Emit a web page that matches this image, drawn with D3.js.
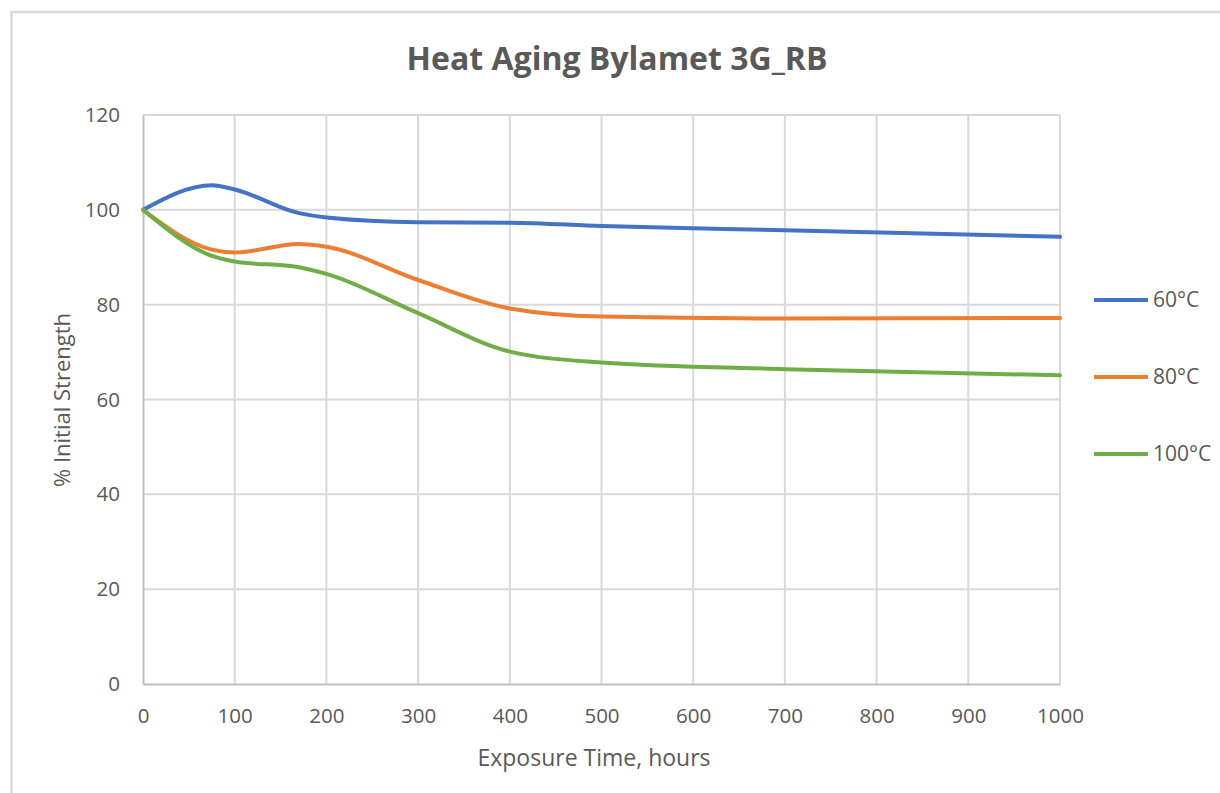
<!DOCTYPE html>
<html>
<head>
<meta charset="utf-8">
<script src="https://cdn.jsdelivr.net/npm/d3@7"></script>
<style>
  body { margin: 0; background: #fff; }
  text { font-family: "Open Sans", "Liberation Sans", sans-serif; fill: #595959; }
</style>
</head>
<body>
<div id="chart"></div>
<script>
// values
var hours = [0, 75, 100, 170, 200, 300, 400, 500, 700, 1000];
var temp60 = [100, 105.2, 104.3, 99.3, 98.4, 97.4, 97.3, 96.6, 95.7, 94.3];
var temp80 = [100, 91.6, 91.0, 92.8, 92.2, 85.2, 79.2, 77.5, 77.1, 77.2];
var temp100 = [100, 90.3, 89.1, 87.9, 86.5, 78.2, 70.1, 67.8, 66.4, 65.1];
var seriesNames = ["60°C", "80°C", "100°C"];
var seriesColors = ["#4472C4", "#ED7D31", "#70AD47"];
var xTicks = [0, 100, 200, 300, 400, 500, 600, 700, 800, 900, 1000];
var yTicks = [0, 20, 40, 60, 80, 100, 120];

var series = [temp60, temp80, temp100].map(function(vals, i) {
    return {
        name: seriesNames[i],
        color: seriesColors[i],
        values: vals.map(function(v, j) { return {x: hours[j], y: v}; })
    };
});

var margin = {top: 115, right: 160, bottom: 109, left: 143},
    width = 1220 - margin.left - margin.right,
    height = 793 - margin.top - margin.bottom;

var svg = d3.select("#chart").append("svg")
    .attr("width", 1220)
    .attr("height", 793);

// outer chart frame
svg.append("rect")
    .attr("x", 11.5).attr("y", 12)
    .attr("width", 1230).attr("height", 800)
    .attr("fill", "none")
    .attr("stroke", "#d9d9d9")
    .attr("stroke-width", 2.5);

var g = svg.append("g")
    .attr("transform", "translate(" + margin.left + "," + margin.top + ")");

var x = d3.scaleLinear().domain([0, 1000]).range([0, width]);
var y = d3.scaleLinear().domain([0, 120]).range([height, 0]);

// gridlines
g.append("g").selectAll("line")
    .data(yTicks.filter(function(d) { return d > 0; }))
  .enter().append("line")
    .attr("x1", 0).attr("x2", width)
    .attr("y1", function(d) { return y(d); })
    .attr("y2", function(d) { return y(d); })
    .attr("stroke", "#d9d9d9")
    .attr("stroke-width", 2);

g.append("g").selectAll("line")
    .data(xTicks.filter(function(d) { return d > 0; }))
  .enter().append("line")
    .attr("y1", 0).attr("y2", height)
    .attr("x1", function(d) { return x(d); })
    .attr("x2", function(d) { return x(d); })
    .attr("stroke", "#d9d9d9")
    .attr("stroke-width", 2);

// axes
var xAxis = g.append("g")
    .attr("transform", "translate(0," + height + ")")
    .call(d3.axisBottom(x).tickValues(xTicks).tickFormat(d3.format("d")).tickSize(0).tickPadding(24));
var yAxis = g.append("g")
    .call(d3.axisLeft(y).tickValues(yTicks).tickSize(0).tickPadding(23));

[xAxis, yAxis].forEach(function(a) {
    a.select(".domain").attr("stroke", "#bfbfbf").attr("stroke-width", 2);
    a.selectAll("text")
        .style("font-family", "'Open Sans', sans-serif")
        .style("font-size", "20.5px")
        .attr("fill", "#595959");
});

// lines
var line = d3.line()
    .x(function(d) { return x(d.x); })
    .y(function(d) { return y(d.y); })
    .curve(d3.curveMonotoneX);

g.selectAll(".series")
    .data(series)
  .enter().append("path")
    .attr("class", "series")
    .attr("d", function(d) { return line(d.values); })
    .attr("fill", "none")
    .attr("stroke", function(d) { return d.color; })
    .attr("stroke-width", 4)
    .attr("stroke-linecap", "round");

// title and axis labels
svg.append("text")
    .attr("x", 617).attr("y", 70)
    .attr("text-anchor", "middle")
    .style("font-size", "32px")
    .style("font-weight", "bold")
    .text("Heat Aging Bylamet 3G_RB");

svg.append("text")
    .attr("x", 594).attr("y", 766)
    .attr("text-anchor", "middle")
    .style("font-size", "23px")
    .text("Exposure Time, hours");

svg.append("text")
    .attr("transform", "translate(70,400) rotate(-90)")
    .attr("text-anchor", "middle")
    .style("font-size", "22px")
    .text("% Initial Strength");

// legend
var legend = svg.append("g")
    .selectAll("g")
    .data(series)
  .enter().append("g")
    .attr("transform", function(d, i) { return "translate(1094," + (300 + i * 77) + ")"; });

legend.append("line")
    .attr("x1", 0).attr("x2", 54)
    .attr("stroke", function(d) { return d.color; })
    .attr("stroke-width", 4);

legend.append("text")
    .attr("x", 59)
    .attr("dy", "0.35em")
    .style("font-size", "21px")
    .text(function(d) { return d.name; });
</script>
</body>
</html>
